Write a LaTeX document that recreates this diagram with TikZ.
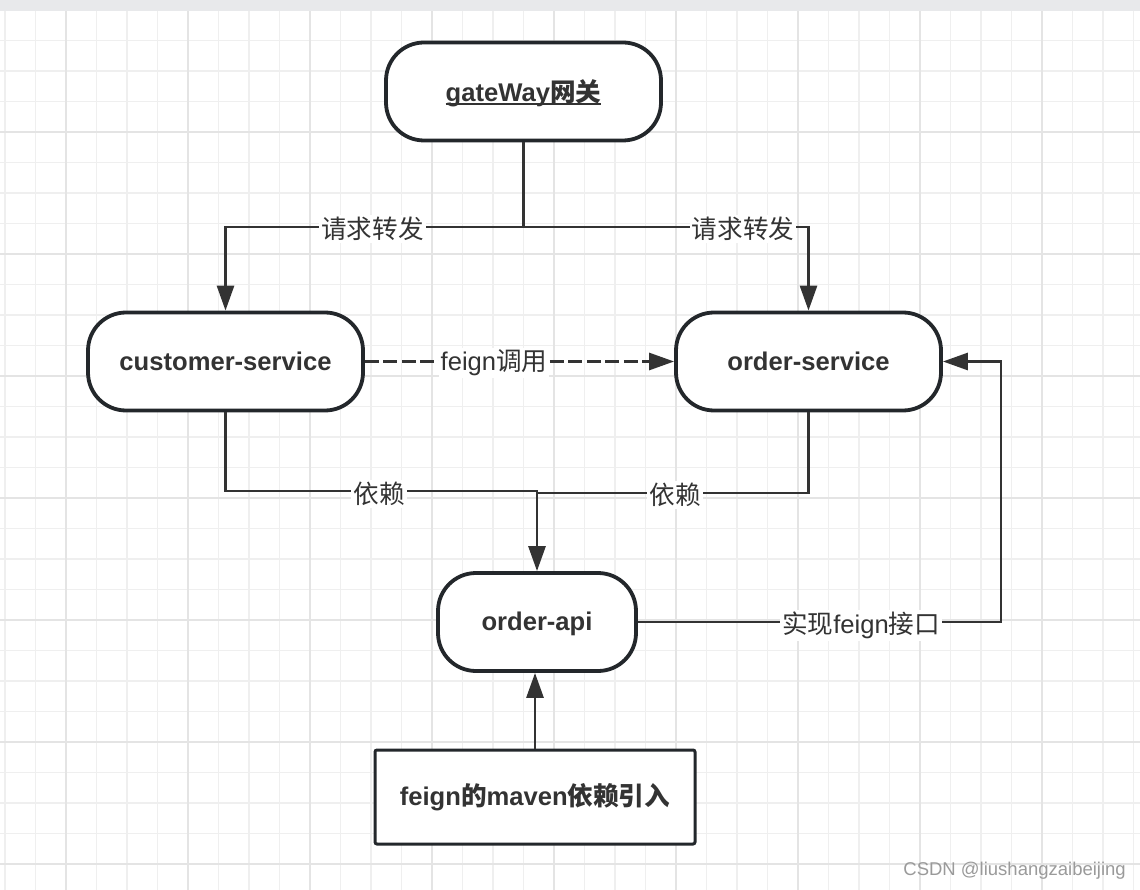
\documentclass[tikz,border=0pt]{standalone}
\usepackage{fontspec}
\setmainfont{Liberation Sans}
\newfontfamily\cjk{Noto Sans CJK SC}
\usetikzlibrary{arrows.meta}
\definecolor{ink}{HTML}{333333}
\definecolor{border}{HTML}{23272B}
\definecolor{gmin}{HTML}{EFEFEF}
\definecolor{gmaj}{HTML}{E4E4E4}
\definecolor{band}{HTML}{E8E9EB}
\definecolor{wmark}{HTML}{9A9A9A}
\newcommand{\zh}[1]{{\cjk #1}}
\newcommand{\myul}[1]{\setbox0\hbox{#1}\rlap{\copy0}\rule[-3.5pt]{\wd0}{2pt}}
\begin{document}
\begin{tikzpicture}[x=1pt,y=-1pt,
  gridmin/.style={draw=gmin,line width=1.4pt},
  gridmaj/.style={draw=gmaj,line width=2pt},
  term/.style={draw=border,line width=3.8pt,fill=white,rounded corners=38pt,
    minimum height=98pt,inner sep=0pt,text=ink,
    font=\bfseries\fontsize{25.6}{30}\selectfont},
  plainbox/.style={draw=border,line width=3pt,fill=white,rounded corners=2pt,
    minimum height=94pt,minimum width=320pt,inner sep=0pt,text=ink,
    font=\bfseries\fontsize{25.6}{30}\selectfont},
  conn/.style={draw=ink,line width=2.8pt},
  arr/.style={-{Triangle[length=25pt,width=17pt]}},
  dashline/.style={dash pattern=on 14pt off 4.5pt},
  lab/.style={fill=white,text=ink,inner sep=2pt,font=\fontsize{25.6}{30}\selectfont}]
\useasboundingbox (0,0) rectangle (1140,890);
\fill[white] (0,0) rectangle (1140,890);
% grid
\foreach \i in {0,...,37} \draw[gridmin] ({5+30.5*\i},11) -- ({5+30.5*\i},890);
\foreach \k in {1,...,29} \draw[gridmin] (0,{10+30.5*\k}) -- (1140,{10+30.5*\k});
\foreach \i in {0,...,8} \draw[gridmaj] ({66+122*\i},11) -- ({66+122*\i},890);
\foreach \k in {0,...,6} \draw[gridmaj] (0,{132+122*\k}) -- (1140,{132+122*\k});
\fill[band] (0,0) rectangle (1140,11);
% nodes
\node[term,minimum width=275pt] (gw) at (523.5,91.5) {\rule{0pt}{26pt}\myul{gateWay\zh{网关}}};
\node[term,minimum width=275pt] (cs) at (225.5,361.5) {customer-service};
\node[term,minimum width=265pt] (os) at (808.5,361.5) {order-service};
\node[term,minimum width=198pt] (api) at (537,622) {\rule{0pt}{23pt}order-api};
\node[plainbox] (fb) at (535,797) {feign\zh{的}maven\zh{依赖引入}};
% junctions
\coordinate (j1) at (523.5,227);
\coordinate (j2) at (537,491);
\coordinate (j3) at (537,493);
\coordinate (j4) at (1001,622);
% connectors
\draw[conn,arr] (gw.south) -- (j1) -| (cs.north);
\draw[conn,arr] (j1) -| (os.north);
\draw[conn,arr,dashline] (cs.east) -- (os.west);
\draw[conn,arr] (cs.south) |- (j2) -- (api.north);
\draw[conn] (os.south) |- (j3);
\draw[conn,arr] (api.east) -- (j4) |- (os.east);
\draw[conn,arr] (fb.north) -- (fb.north |- api.south);
% labels
\node[lab] (l1) at (372.5,229) {\zh{请求转发}};
\node[lab] (l2) at (743,229) {\zh{请求转发}};
\node[lab] (l3) at (494,363) {feign\zh{调用}};
\node[lab] (l4) at (379,494) {\zh{依赖}};
\node[lab] (l5) at (675,495) {\zh{依赖}};
\node[lab] (l6) at (861,625) {\zh{实现}feign\zh{接口}};
% watermark
\node[anchor=east,text=wmark,inner sep=0pt,font=\fontsize{18.5}{20}\selectfont] (wm) at (1126,871) {CSDN @liushangzaibeijing};
\end{tikzpicture}
\end{document}
